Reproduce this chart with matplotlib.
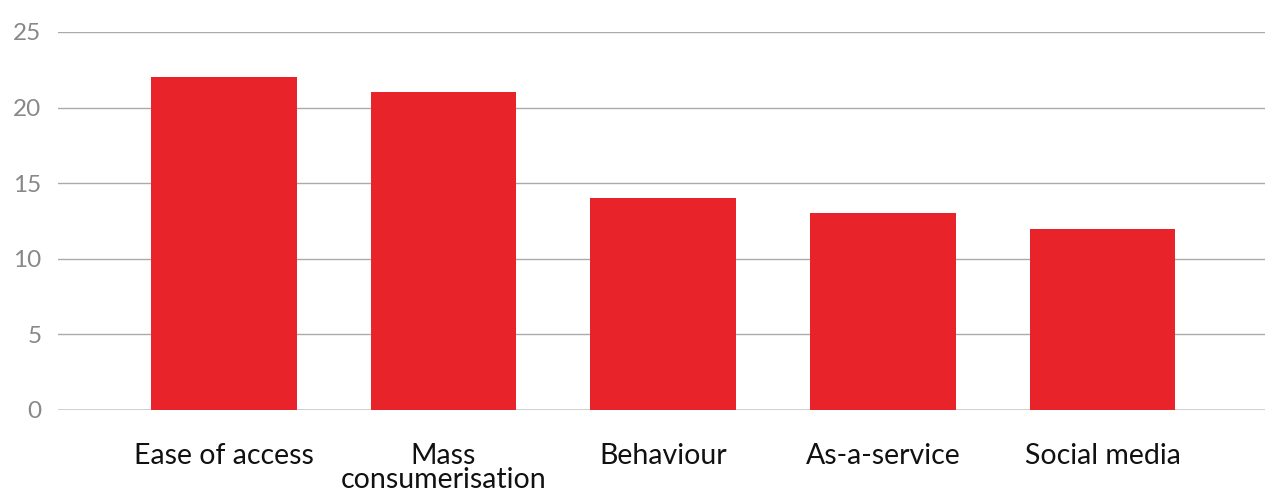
import matplotlib.pyplot as plt

categories = ['Ease of access', 'Mass\nconsumerisation', 'Behaviour', 'As-a-service', 'Social media']
values = [22, 21, 14, 13, 12]
y_ticks = [0, 5, 10, 15, 20, 25]

plt.rcParams['font.family'] = ['Lato', 'DejaVu Sans']

fig = plt.figure(figsize=(12.65, 4.92), dpi=100)
ax = fig.add_axes([58 / 1265, 1 - 410 / 492, 1 - 58 / 1265, (410 - 32) / 492])

x = range(len(categories))
ax.bar(x, values, width=0.664, color='#e8232a', zorder=3)

ax.set_ylim(0, 25)
ax.set_xlim(-0.755, 4.74)
ax.set_yticks(y_ticks)
for t in y_ticks:
    if t == 0:
        ax.axhline(t, color='#cccccc', linewidth=2, zorder=2)
    else:
        ax.axhline(t, color='#aaaaaa', linewidth=1, zorder=1)

ax.set_xticks(list(x))
ax.set_xticklabels(categories, fontsize=20.5, color='#111111', linespacing=0.88, va='top')
ax.tick_params(axis='x', length=0, pad=24)
ax.tick_params(axis='y', length=0, pad=12, labelsize=17.5, labelcolor='#888888')

for s in ax.spines.values():
    s.set_visible(False)

fig.savefig('out.png', dpi=100)
